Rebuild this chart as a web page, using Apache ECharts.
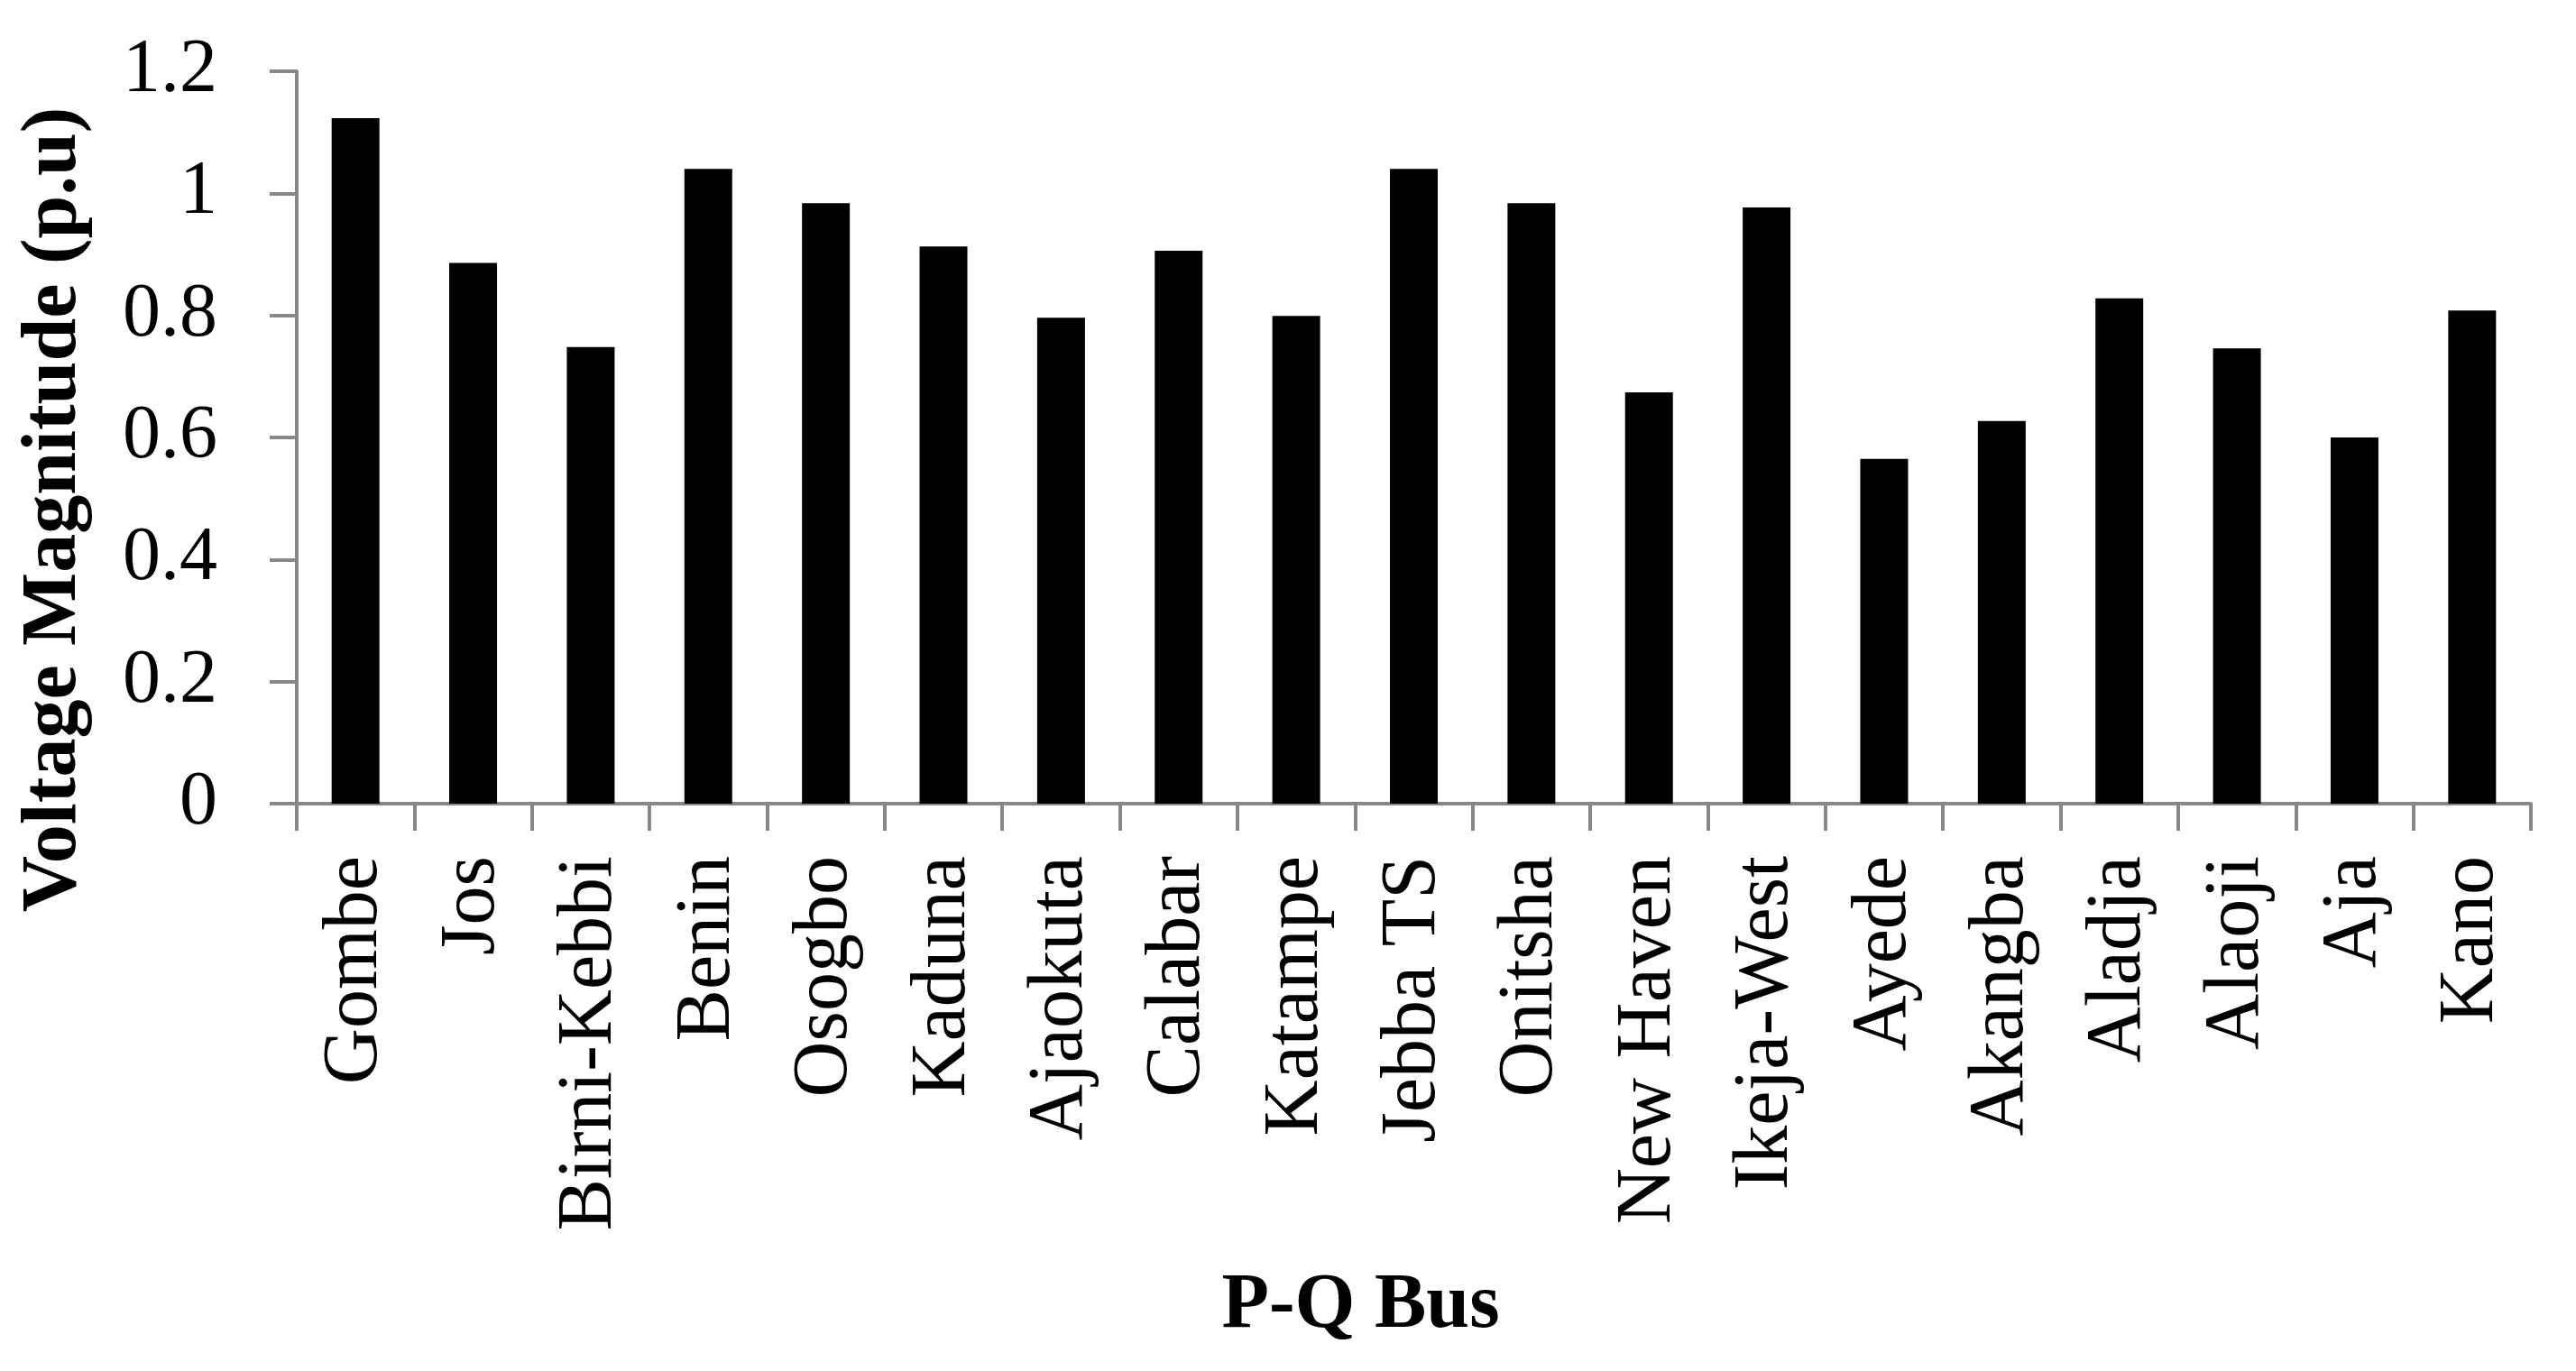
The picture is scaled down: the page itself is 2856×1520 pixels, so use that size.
<!DOCTYPE html>
<html>
<head>
<meta charset="utf-8">
<script src="https://cdn.jsdelivr.net/npm/echarts@6/dist/echarts.min.js"></script>
<style>
html,body{margin:0;padding:0;background:#fff;}
#c{width:2856px;height:1520px;}
</style>
</head>
<body>
<div id="c"></div>
<script>
const categories = ["Gombe","Jos","Birni-Kebbi","Benin","Osogbo","Kaduna","Ajaokuta","Calabar","Katampe","Jebba TS","Onitsha","New Haven","Ikeja-West","Ayede","Akangba","Aladja","Alaoji","Aja","Kano"];
const voltage = [1.123,0.886,0.748,1.040,0.984,0.913,0.796,0.906,0.799,1.040,0.984,0.674,0.977,0.565,0.627,0.828,0.746,0.600,0.808];
const yTicks = {min:0, max:1.2, interval:0.2};
const xTitle = "P-Q Bus";
const yTitle = "Voltage Magnitude (p.u)";

const FONT = "'Liberation Serif', 'DejaVu Serif', serif";
const AXIS_COLOR = '#878787';
const chart = echarts.init(document.getElementById('c'));
chart.setOption({
  backgroundColor:'#ffffff',
  animation:false,
  grid:{left:329, right:50, top:79, bottom:629, containLabel:false},
  xAxis:{
    type:'category',
    data:categories,
    boundaryGap:true,
    axisLine:{show:true, lineStyle:{color:AXIS_COLOR, width:4}},
    axisTick:{show:true, length:30, inside:false, lineStyle:{color:AXIS_COLOR, width:4}},
    axisLabel:{rotate:90, interval:0, margin:58, color:'#000', fontFamily:FONT, fontSize:86},
    splitLine:{show:false},
    name:xTitle,
    nameLocation:'middle',
    nameGap:515,
    nameTextStyle:{color:'#000', fontFamily:FONT, fontSize:86, fontWeight:'bold', padding:[0,118,0,0]}
  },
  yAxis:{
    type:'value',
    min:yTicks.min, max:yTicks.max, interval:yTicks.interval,
    axisLine:{show:true, lineStyle:{color:AXIS_COLOR, width:4}},
    axisTick:{show:true, length:30, inside:false, lineStyle:{color:AXIS_COLOR, width:4}},
    axisLabel:{margin:88, color:'#000', fontFamily:FONT, fontSize:84},
    splitLine:{show:false},
    name:yTitle,
    nameLocation:'middle',
    nameGap:225,
    nameTextStyle:{color:'#000', fontFamily:FONT, fontSize:86, fontWeight:'bold', padding:[0,160,0,0]}
  },
  series:[{
    type:'bar',
    data:voltage,
    barWidth:53,
    itemStyle:{color:'#000000'}
  }]
});
</script>
</body>
</html>
